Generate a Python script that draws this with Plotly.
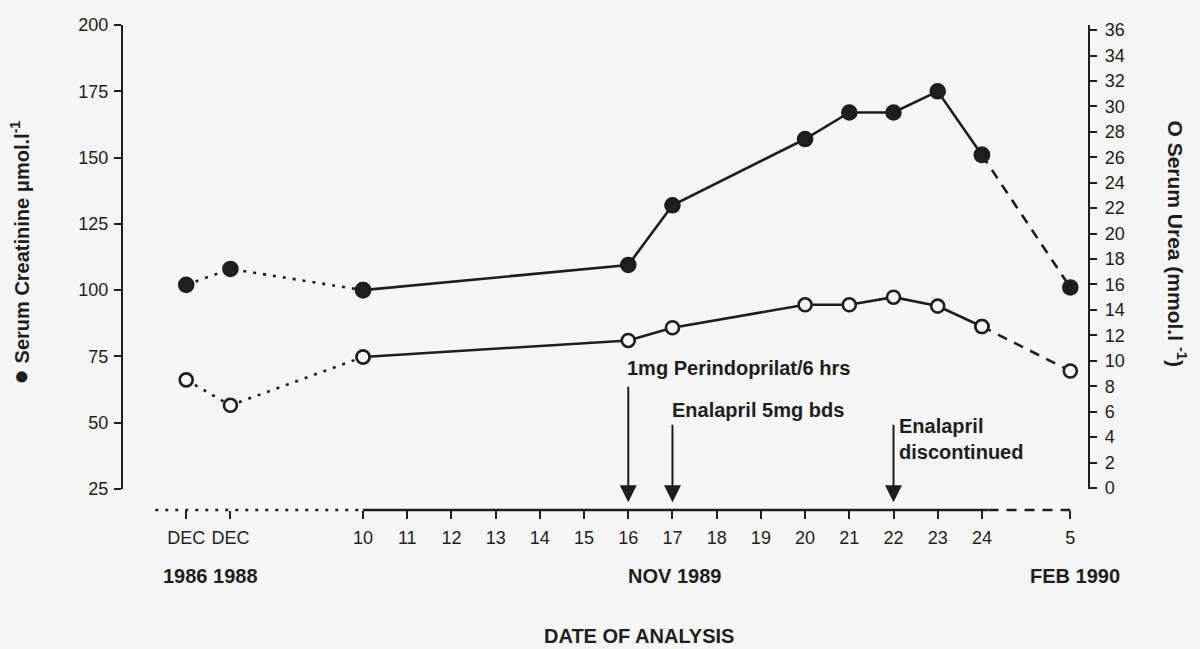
import plotly.graph_objects as go

# ---- data ----
x_labels = ["DEC", "DEC", "10", "11", "12", "13", "14", "15", "16", "17", "18", "19",
            "20", "21", "22", "23", "24", "5"]
x_pos = [6, 7, 10, 11, 12, 13, 14, 15, 16, 17, 18, 19, 20, 21, 22, 23, 24, 26]

# sample dates (positions on the x scale)
dotted_x = [6, 7, 10]
solid_x = [10, 16, 17, 20, 21, 22, 23, 24]
dashed_x = [24, 26]

creat_dotted = [102, 108, 100]
creat_solid = [100, 109.5, 132, 157, 167, 167, 175, 151]
creat_dashed = [151, 101]

urea_dotted = [8.5, 6.5, 10.3]
urea_solid = [10.3, 11.6, 12.6, 14.4, 14.4, 15.0, 14.3, 12.7]
urea_dashed = [12.7, 9.2]

events = [
    {"x": 16, "label": "1mg Perindoprilat/6 hrs", "tail": -117},
    {"x": 17, "label": "Enalapril 5mg bds", "tail": -79},
    {"x": 22, "label": "Enalapril<br>discontinued", "tail": -79},
]

INK = "#1e1e1e"
BG = "#f6f6f6"
FONT = "Liberation Sans, Arial, sans-serif"
DOT = "3px,7px"
DASH = "10px,8px"

fig = go.Figure()

def add_series(xs, ys, dash, axis, filled):
    fig.add_trace(go.Scatter(
        x=xs, y=ys, yaxis=axis, mode="lines+markers",
        line=dict(color=INK, width=2.6, dash=dash),
        marker=dict(size=14 if filled else 13,
                    color=INK if filled else BG,
                    line=dict(color=INK, width=2.6)),
        showlegend=False, hoverinfo="skip", cliponaxis=False))

add_series(dotted_x, creat_dotted, DOT, "y", True)
add_series(solid_x, creat_solid, "solid", "y", True)
add_series(dashed_x, creat_dashed, DASH, "y", True)
add_series(dotted_x, urea_dotted, DOT, "y2", False)
add_series(solid_x, urea_solid, "solid", "y2", False)
add_series(dashed_x, urea_dashed, DASH, "y2", False)

# baseline of the date axis (dotted / solid / dashed)
for x0, x1, dash in [(5.3, 10, DOT), (10, 24.15, "solid"), (24.15, 26, DASH)]:
    fig.add_shape(type="line", xref="x", yref="paper", x0=x0, x1=x1, y0=0, y1=0,
                  line=dict(color=INK, width=2.6, dash=dash))

annotations = []
tip_y = 0.016
for ev, (lx, ly) in zip(events, [(15.93, 0.293), (16.95, 0.206), (22.08, 0.146)]):
    annotations.append(dict(x=ev["x"], y=tip_y, xref="x", yref="paper", text="",
                            showarrow=True, arrowhead=2, arrowsize=1.7, arrowwidth=2,
                            arrowcolor=INK, ax=0, ay=ev["tail"]))
    annotations.append(dict(x=lx, y=ly, xref="x", yref="paper", text="<b>" + ev["label"] + "</b>",
                            showarrow=False, xanchor="left", yanchor="middle", align="left",
                            font=dict(family=FONT, size=20, color=INK)))

# second line of date labels
for xx, t in [(6.54, "1986 1988"), (17.05, "NOV 1989"), (26.1, "FEB 1990")]:
    annotations.append(dict(x=xx, y=-0.136, xref="x", yref="paper", text="<b>" + t + "</b>",
                            showarrow=False, xanchor="center", yanchor="middle",
                            font=dict(family=FONT, size=20, color=INK)))
annotations.append(dict(x=0.535, y=-0.26, xref="paper", yref="paper",
                        text="<b>DATE OF ANALYSIS</b>", showarrow=False,
                        xanchor="center", yanchor="middle",
                        font=dict(family=FONT, size=20, color=INK)))
# axis titles
annotations.append(dict(x=-0.107, y=0.53, xref="paper", yref="paper",
                        text="<b><span style='font-size:26px'>●</span> Serum Creatinine μmol.l<sup>-1</sup></b>",
                        showarrow=False, textangle=-90, xanchor="center", yanchor="middle",
                        font=dict(family=FONT, size=20, color=INK)))
annotations.append(dict(x=1.092, y=0.55, xref="paper", yref="paper",
                        text="<b>O Serum Urea (mmol.l <sup>-1</sup>)</b>", showarrow=False,
                        textangle=90, xanchor="center", yanchor="middle",
                        font=dict(family=FONT, size=21, color=INK)))

fig.update_layout(
    width=1200, height=649,
    margin=dict(l=123, r=112, t=25, b=139),
    paper_bgcolor=BG, plot_bgcolor=BG,
    font=dict(family=FONT, size=18, color=INK),
    xaxis=dict(range=[4.57, 26.4], tickmode="array", tickvals=x_pos, ticktext=x_labels,
               showgrid=False, zeroline=False, showline=False,
               ticks="outside", ticklen=8, tickwidth=2, tickcolor=INK,
               anchor="free", position=0, ticklabelstandoff=3,
               tickfont=dict(size=18)),
    yaxis=dict(domain=[0.0433, 1], range=[25, 200], tickvals=[25, 50, 75, 100, 125, 150, 175, 200],
               showgrid=False, zeroline=False, showline=True, linecolor=INK, linewidth=2.4,
               ticks="outside", ticklen=7, tickwidth=2.4, tickcolor=INK, ticklabelstandoff=2,
               tickfont=dict(size=18)),
    yaxis2=dict(overlaying="y", side="right", range=[-0.08, 36.4],
                tickvals=list(range(0, 37, 2)),
                showgrid=False, zeroline=False, showline=True, linecolor=INK, linewidth=2.4,
                ticks="outside", ticklen=7, tickwidth=2.4, tickcolor=INK, ticklabelstandoff=4,
                tickfont=dict(size=18)),
    annotations=annotations,
)

fig.write_html("out.html", config={"displayModeBar": False},
               post_script="document.body.style.margin='0';document.body.style.background='%s';" % BG)
